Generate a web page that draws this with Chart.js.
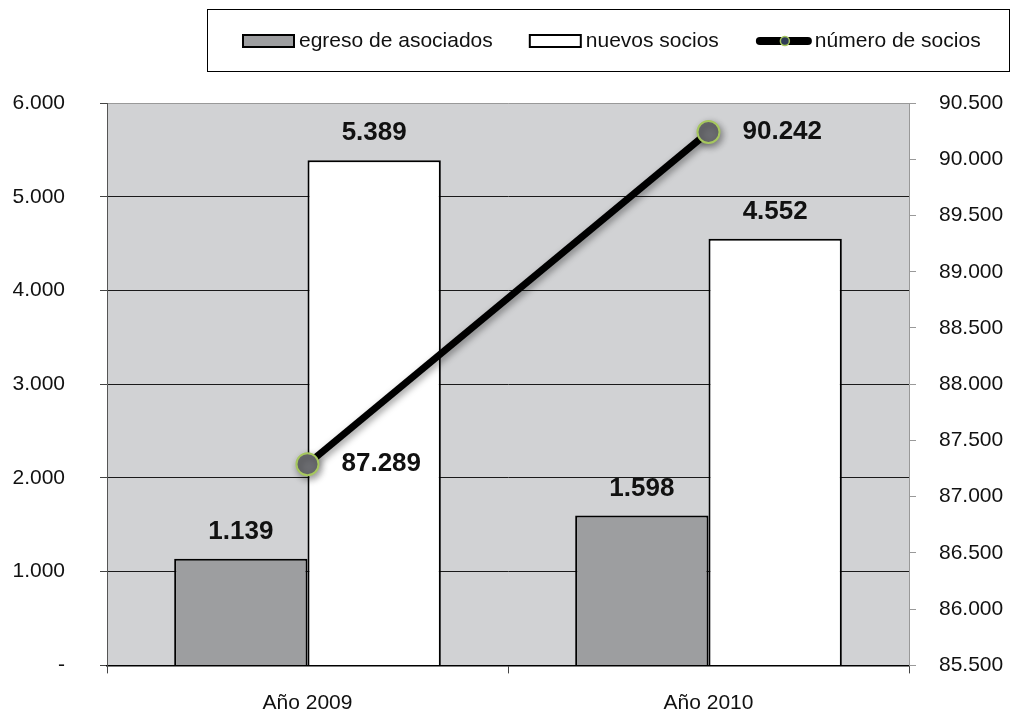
<!DOCTYPE html>
<html lang="es">
<head>
    <meta charset="utf-8">
    <title>Socios</title>
    <script src="https://cdn.jsdelivr.net/npm/chart.js"></script>
    <style>
        html, body { margin: 0; padding: 0; background: #fff; }
        canvas { display: block; }
    </style>
</head>
<body>
    <canvas id="grafico-socios" width="1014" height="713"></canvas>

    <script>
        // datos del gráfico
        const categorias = ['Año 2009', 'Año 2010'];
        const egresoAsociados = [1139, 1598];
        const nuevosSocios = [5389, 4552];
        const numeroSocios = [87289, 90242];

        const ejeIzqMin = 0, ejeIzqMax = 6000, ejeIzqPaso = 1000;
        const ejeDerMin = 85500, ejeDerMax = 90500, ejeDerPaso = 500;

        const nombresSeries = ['egreso de asociados', 'nuevos socios', 'número de socios'];

        const FUENTE = 'Liberation Sans, Arial, sans-serif';

        function formato(v) {
            if (v === 0) return '-';
            return String(v).replace(/\B(?=(\d{3})+(?!\d))/g, '.');
        }

        // fondo gris del area de trazado
        const fondoPlugin = {
            id: 'fondo',
            beforeDraw(chart) {
                const { ctx, chartArea: a } = chart;
                ctx.save();
                ctx.fillStyle = '#D1D2D4';
                ctx.fillRect(a.left, a.top, a.right - a.left, a.bottom - a.top);
                ctx.restore();
            }
        };

        // sombra para la linea
        const sombraPlugin = {
            id: 'sombra',
            beforeDatasetDraw(chart, args) {
                if (args.index !== 2) return;
                const ctx = chart.ctx;
                ctx.save();
                ctx.shadowColor = 'rgba(0,0,0,0.4)';
                ctx.shadowBlur = 7;
                ctx.shadowOffsetX = 2;
                ctx.shadowOffsetY = 3;
            },
            afterDatasetDraw(chart, args) {
                if (args.index !== 2) return;
                chart.ctx.restore();
            }
        };

        // etiquetas de valores
        const etiquetasPlugin = {
            id: 'etiquetas',
            afterDatasetsDraw(chart) {
                const ctx = chart.ctx;
                ctx.save();
                ctx.font = 'bold 26px ' + FUENTE;
                ctx.fillStyle = '#111';
                ctx.textBaseline = 'middle';
                chart.data.datasets.forEach((ds, i) => {
                    const meta = chart.getDatasetMeta(i);
                    meta.data.forEach((el, j) => {
                        const txt = formato(ds.data[j]);
                        if (ds.type === 'line') {
                            ctx.textAlign = 'left';
                            ctx.fillText(txt, el.x + 34, el.y);
                        } else {
                            ctx.textAlign = 'center';
                            ctx.fillText(txt, el.x, el.y - 27);
                        }
                    });
                });
                ctx.restore();
            }
        };

        // leyenda con recuadro
        const leyendaPlugin = {
            id: 'leyenda',
            afterDraw(chart) {
                const ctx = chart.ctx;
                ctx.save();
                ctx.strokeStyle = '#000';
                ctx.lineWidth = 1;
                ctx.strokeRect(207.5, 9.5, 802, 62);

                ctx.font = '21px ' + FUENTE;
                ctx.textBaseline = 'middle';
                ctx.textAlign = 'left';
                const yc = 41;
                let x = 243;
                nombresSeries.forEach((nombre, i) => {
                    if (i < 2) {
                        ctx.fillStyle = i === 0 ? '#9D9EA0' : '#fff';
                        ctx.fillRect(x, yc - 6, 51, 12);
                        ctx.lineWidth = 2;
                        ctx.strokeStyle = '#000';
                        ctx.strokeRect(x, yc - 6, 51, 12);
                    } else {
                        ctx.lineWidth = 8;
                        ctx.lineCap = 'round';
                        ctx.strokeStyle = '#000';
                        ctx.beginPath();
                        ctx.moveTo(x + 4, yc);
                        ctx.lineTo(x + 52, yc);
                        ctx.stroke();
                        ctx.beginPath();
                        ctx.arc(x + 29, yc, 4.5, 0, Math.PI * 2);
                        ctx.fillStyle = '#2E3B55';
                        ctx.fill();
                        ctx.lineWidth = 1.5;
                        ctx.strokeStyle = '#A6C75E';
                        ctx.stroke();
                    }
                    ctx.fillStyle = '#111';
                    const tx = x + (i < 2 ? 56 : 59);
                    ctx.fillText(nombre, tx, yc);
                    x = tx + ctx.measureText(nombre).width + 37;
                });
                ctx.restore();
            }
        };

        const ctx = document.getElementById('grafico-socios').getContext('2d');
        new Chart(ctx, {
            type: 'bar',
            data: {
                labels: categorias,
                datasets: [{
                    label: nombresSeries[0],
                    data: egresoAsociados,
                    backgroundColor: '#9D9EA0',
                    borderColor: '#000',
                    borderWidth: 2,
                    yAxisID: 'y',
                    order: 1
                }, {
                    label: nombresSeries[1],
                    data: nuevosSocios,
                    backgroundColor: '#fff',
                    borderColor: '#000',
                    borderWidth: 2,
                    yAxisID: 'y',
                    order: 1
                }, {
                    type: 'line',
                    label: nombresSeries[2],
                    data: numeroSocios,
                    borderColor: '#000',
                    borderWidth: 7,
                    pointRadius: 11,
                    pointBackgroundColor: '#6B6C70',
                    pointBorderColor: '#A6C75E',
                    pointBorderWidth: 2,
                    yAxisID: 'y2',
                    order: 0
                }]
            },
            options: {
                responsive: false,
                animation: false,
                categoryPercentage: 0.665,
                barPercentage: 1,
                layout: { padding: { top: 103, left: 0, right: 0, bottom: 0 } },
                plugins: {
                    legend: { display: false },
                    tooltip: { enabled: false }
                },
                scales: {
                    x: {
                        offset: true,
                        grid: {
                            offset: true,
                            drawOnChartArea: false,
                            tickLength: 8,
                            color: '#444'
                        },
                        border: { color: '#000', width: 1.5 },
                        ticks: { font: { family: FUENTE, size: 21 }, color: '#111', padding: 17 },
                        afterFit(scale) { scale.height = 46; }
                    },
                    y: {
                        position: 'left',
                        min: ejeIzqMin,
                        max: ejeIzqMax,
                        grid: {
                            color: c => (c.tick && c.tick.value === ejeIzqMax) ? '#999' : '#1a1a1a',
                            tickColor: '#444',
                            tickLength: 7
                        },
                        border: { color: '#555' },
                        ticks: {
                            stepSize: ejeIzqPaso,
                            font: { family: FUENTE, size: 21 },
                            color: '#111',
                            padding: 35,
                            callback: v => formato(v)
                        },
                        afterFit(scale) { scale.width = 107; }
                    },
                    y2: {
                        position: 'right',
                        min: ejeDerMin,
                        max: ejeDerMax,
                        grid: {
                            drawOnChartArea: false,
                            tickColor: '#999',
                            tickLength: 7
                        },
                        border: { color: '#999' },
                        ticks: {
                            stepSize: ejeDerPaso,
                            font: { family: FUENTE, size: 21 },
                            color: '#111',
                            padding: 23,
                            callback: v => formato(v)
                        },
                        afterFit(scale) { scale.width = 105; }
                    }
                }
            },
            plugins: [fondoPlugin, sombraPlugin, etiquetasPlugin, leyendaPlugin]
        });
    </script>
</body>
</html>
